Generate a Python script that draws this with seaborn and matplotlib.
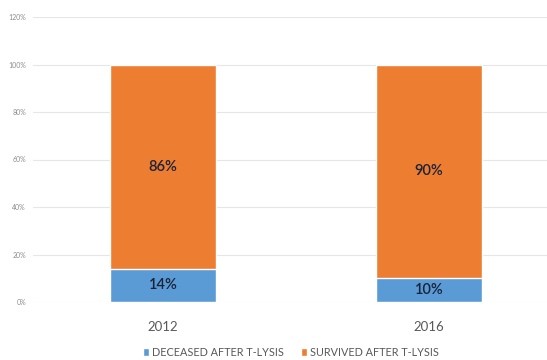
import matplotlib
matplotlib.use("Agg")
import matplotlib.pyplot as plt
import seaborn as sns
import pandas as pd
from matplotlib.patches import Patch

years = ["2012", "2016"]
deceased = [14, 10]
survived = [86, 90]
series_names = ["DECEASED AFTER T-LYSIS", "SURVIVED AFTER T-LYSIS"]
yticks = [0, 20, 40, 60, 80, 100, 120]

sns.set_theme(style="white")
plt.rcParams['font.family'] = ['Lato', 'DejaVu Sans']

blue = "#5B9BD5"
orange = "#ED7D31"

df = pd.DataFrame({"year": years, "deceased": deceased, "survived": survived})
df["total"] = df["deceased"] + df["survived"]

fig = plt.figure(figsize=(5.47, 3.60), dpi=100)
ax = fig.add_axes([33/547, 58/360, 1 - 33/547, 285/360])

sns.barplot(data=df, x="year", y="total", color=orange, width=0.4, saturation=1, ax=ax, zorder=2)
sns.barplot(data=df, x="year", y="deceased", color=blue, width=0.4, saturation=1, ax=ax, zorder=3)

for i, (d, s) in enumerate(zip(deceased, survived)):
    ax.text(i, d / 2, f"{d}%", ha="center", va="center", fontsize=10.5, fontweight="semibold",
            color="#1A2238", zorder=5)
    ax.text(i, d + s / 2, f"{s}%", ha="center", va="center", fontsize=10.5, fontweight="semibold",
            color="#1A2238", zorder=5)

ax.set_xlim(-0.489, 1.444)
ax.set_ylim(0, 120)
ax.set_yticks(yticks)
ax.set_yticklabels([f"{v}%" for v in yticks], fontsize=5, color="#8C8C8C")
ax.tick_params(axis="x", labelsize=9.5, colors="#595959", length=0, pad=14)
ax.tick_params(axis="y", length=0, pad=5)
ax.yaxis.grid(True, color="#E6E6E6", linewidth=0.8, zorder=0)
ax.set_axisbelow(True)
ax.set_xlabel("")
ax.set_ylabel("")
for sp in ax.spines.values():
    sp.set_visible(False)

handles = [Patch(facecolor=blue, label=series_names[0]), Patch(facecolor=orange, label=series_names[1])]
fig.legend(handles=handles, loc="center", bbox_to_anchor=(291/547, 1 - 352/360), ncol=2, frameon=False,
           fontsize=7.8, handlelength=0.6, handleheight=0.7, handletextpad=0.3, columnspacing=1.5,
           labelcolor="#595959")

fig.savefig("out.png", dpi=100)
